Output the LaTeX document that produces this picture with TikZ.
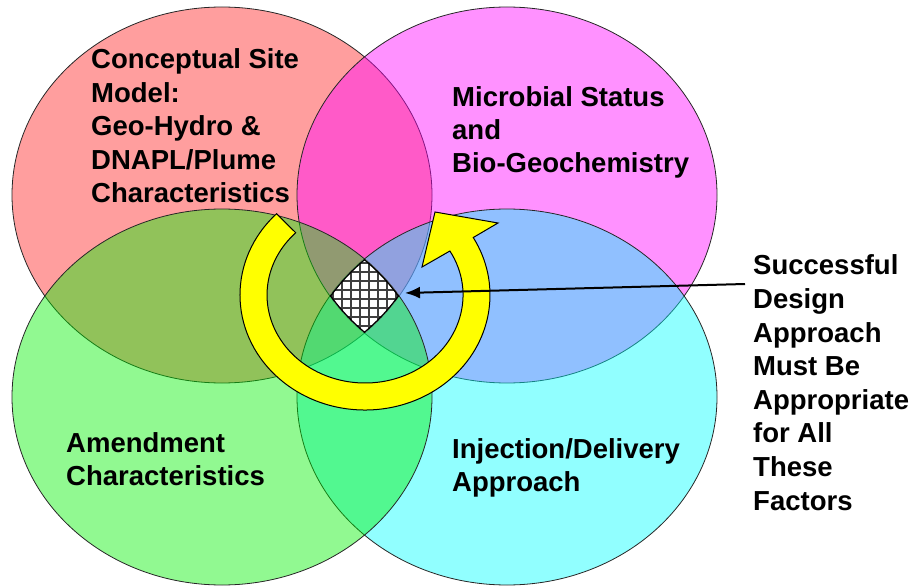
\documentclass[tikz,border=0pt]{standalone}
\usepackage{fontspec}
\setmainfont{Liberation Sans}
\usetikzlibrary{arrows.meta}
\definecolor{vred}{RGB}{255,0,0}
\definecolor{vmag}{RGB}{255,0,255}
\definecolor{vgreen}{RGB}{0,240,0}
\definecolor{vcyan}{RGB}{0,255,255}
\definecolor{vyellow}{RGB}{255,255,0}
\begin{document}
\begin{tikzpicture}[x=1pt,y=1pt,
  venn/.style={draw=black!85, line width=0.8pt, fill opacity=0.43},
  lbl/.style={anchor=base west, align=left, inner sep=0pt, font=\fontsize{27.5}{33.5}\selectfont\bfseries},
  bigarrow/.style={fill=vyellow, draw=black, line width=1pt, line join=miter},
  pointer/.style={draw=black, line width=2pt, -{Latex[length=15pt,width=12pt]}}]
\useasboundingbox (0,0) rectangle (917,587);
% four factor ellipses
\path[venn, fill=vred, fill opacity=0.38] (222,392) ellipse [x radius=210, y radius=188];
\path[venn, fill=vmag]   (507,392) ellipse [x radius=210, y radius=188];
\path[venn, fill=vcyan]  (507,190) ellipse [x radius=210, y radius=188];
\path[venn, fill=vgreen] (222,190) ellipse [x radius=210, y radius=188];
% common core
\begin{scope}
  \clip (222,392) ellipse [x radius=210, y radius=188];
  \clip (507,392) ellipse [x radius=210, y radius=188];
  \clip (222,190) ellipse [x radius=210, y radius=188];
  \clip (507,190) ellipse [x radius=210, y radius=188];
  \fill[white] (300,220) rectangle (430,370);
  \draw[black!75, line width=1.8pt, step=9pt] (300,220) grid (430,370);
  \draw[line width=2.6pt] (222,392) ellipse [x radius=210, y radius=188];
  \draw[line width=2.6pt] (507,392) ellipse [x radius=210, y radius=188];
  \draw[line width=2.6pt] (222,190) ellipse [x radius=210, y radius=188];
  \draw[line width=2.6pt] (507,190) ellipse [x radius=210, y radius=188];
\end{scope}
% circular yellow arrow
\path[bigarrow] (276.6,373.3)
  arc[start angle=135, end angle=390, x radius=125, y radius=115]
  -- (498,364) -- (435,375) -- (422,320) -- (449.9,336)
  arc[start angle=390, end angle=135, x radius=98, y radius=88]
  -- cycle;
% labels (anchor = baseline of the last line)
\node[lbl] (csm) at (91,384) {Conceptual Site\\Model:\\Geo-Hydro \&\\DNAPL/Plume\\Characteristics};
\node[lbl, font=\fontsize{27.5}{33}\selectfont\bfseries] (mic) at (452,414) {Microbial Status\\and\\Bio-Geochemistry};
\node[lbl, font=\fontsize{27.5}{33}\selectfont\bfseries] (amd) at (66,102) {Amendment\\Characteristics};
\node[lbl, font=\fontsize{27.5}{33}\selectfont\bfseries] (inj) at (452,96) {Injection/Delivery\\Approach};
\node[lbl, font=\fontsize{27.5}{33.6}\selectfont\bfseries] (succ) at (753,77) {Successful\\Design\\Approach\\Must Be\\Appropriate\\for All\\These\\Factors};
% pointer
\coordinate (ptail) at (745,303);
\coordinate (ptip) at (405,294);
\draw[pointer] (ptail) -- (ptip);
\end{tikzpicture}
\end{document}
